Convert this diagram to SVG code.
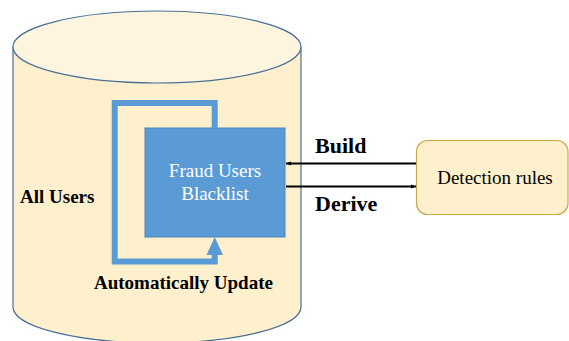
<svg xmlns="http://www.w3.org/2000/svg" width="569" height="341" viewBox="0 0 569 341">
<defs>
<style>
.lbl{font-family:"Liberation Serif","Times New Roman",serif;font-size:19px;fill:#000}
.b{font-weight:bold}
.big{font-size:22px}
.wh{fill:#fff}
.conn{stroke:#000;stroke-width:2;fill:none}
.loop{stroke:#5B9BD5;stroke-width:6;fill:none}
</style>
<marker id="ah" viewBox="0 0 10 10" refX="10" refY="5" markerWidth="5" markerHeight="5" orient="auto" markerUnits="userSpaceOnUse">
<path d="M0,1 L10,5 L0,9 z" fill="#000"/>
</marker>
</defs>
<rect width="569" height="341" fill="#fff"/>
<g id="all-users">
<path d="M13,47 L13,307 A144,36 0 0 0 301,307 L301,47 Z" fill="#FEF0CC" stroke="#4A6F97" stroke-width="1.2"/>
<ellipse cx="157" cy="47" rx="144" ry="36" fill="#FDF5DE" stroke="#4A6F97" stroke-width="1.2"/>
<text class="lbl b" x="20" y="203">All Users</text>
</g>
<g id="blacklist">
<rect x="145" y="128" width="140" height="109" fill="#5B9BD5" stroke="#4A86BE" stroke-width="1"/>
<text class="lbl wh" x="215" y="177" text-anchor="middle">Fraud Users</text>
<text class="lbl wh" x="215" y="200" text-anchor="middle">Blacklist</text>
</g>
<g id="detection-rules">
<rect x="416.5" y="140.5" width="151.5" height="74" rx="11" fill="#FEF0CC" stroke="#C9A94F" stroke-width="1.2"/>
<text class="lbl" x="495" y="184" text-anchor="middle">Detection rules</text>
</g>
<g id="connectors">
<path class="loop" d="M214.7,128 L214.7,103 L114.7,103 L114.7,261.5 L214.7,261.5 L214.7,254"/>
<path d="M206.5,255 L214.7,237 L223,255 Z" fill="#5B9BD5"/>
<line class="conn" x1="416" y1="163.5" x2="286" y2="163.5" marker-end="url(#ah)"/>
<line class="conn" x1="286" y1="186.5" x2="416" y2="186.5" marker-end="url(#ah)"/>
<text class="lbl b big" x="315" y="153">Build</text>
<text class="lbl b big" x="315" y="211">Derive</text>
<text class="lbl b" x="94" y="289">Automatically Update</text>
</g>
</svg>
